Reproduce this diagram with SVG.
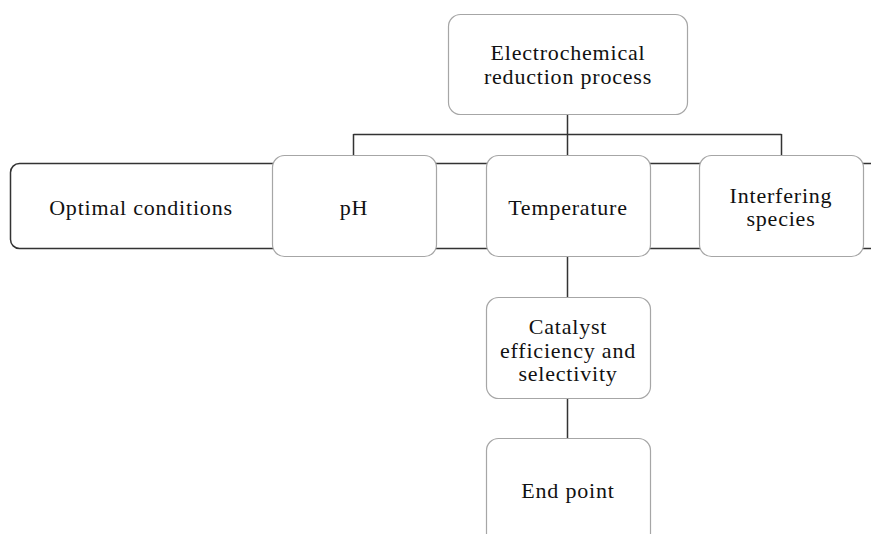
<svg xmlns="http://www.w3.org/2000/svg" width="871" height="534" viewBox="0 0 871 534">
<style>
.bg{fill:#fff}
.node{fill:#fff;stroke:#a6a6a6;stroke-width:1.2}
.outer{fill:#fff;stroke:#333;stroke-width:1.5}
.conn{fill:none;stroke:#333;stroke-width:1.5}
text{font-family:"Liberation Serif","Times New Roman",serif;font-size:22px;letter-spacing:0.8px;fill:#111;text-anchor:middle}
</style>
<rect class="bg" x="0" y="0" width="871" height="534"/>
<g id="optimal-conditions">
<rect class="outer" x="10.5" y="163.5" width="880" height="85" rx="9"/>
<text x="141" y="215">Optimal conditions</text>
</g>
<g id="connectors">
<path class="conn" d="M567.5 114 V155 M353.5 134.5 H781.5 M353.5 134 V155 M781.5 134 V155 M567.5 256 V297 M567.5 398 V438"/>
</g>
<g id="electrochemical">
<rect class="node" x="448.5" y="14.5" width="239" height="100" rx="12"/>
<text x="568" y="60">Electrochemical</text>
<text x="568" y="84">reduction process</text>
</g>
<g id="ph">
<rect class="node" x="272.5" y="155.5" width="164" height="101" rx="12"/>
<text x="354" y="215">pH</text>
</g>
<g id="temperature">
<rect class="node" x="486.5" y="155.5" width="164" height="101" rx="12"/>
<text x="568" y="215">Temperature</text>
</g>
<g id="interfering">
<rect class="node" x="699.5" y="155.5" width="164" height="101" rx="12"/>
<text x="781" y="203">Interfering</text>
<text x="781" y="226">species</text>
</g>
<g id="catalyst">
<rect class="node" x="486.5" y="297.5" width="164" height="101" rx="12"/>
<text x="568" y="334">Catalyst</text>
<text x="568" y="358">efficiency and</text>
<text x="568" y="381">selectivity</text>
</g>
<g id="end-point">
<rect class="node" x="486.5" y="438.5" width="164" height="120" rx="12"/>
<text x="568" y="498">End point</text>
</g>
</svg>
